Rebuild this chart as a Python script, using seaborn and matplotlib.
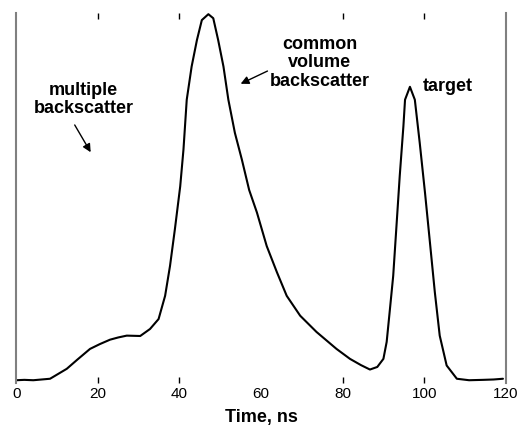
import numpy as np
import pandas as pd
import matplotlib
matplotlib.use("Agg")
import matplotlib.pyplot as plt
from matplotlib.ticker import FixedLocator
import seaborn as sns

# waveform (time in ns, normalised amplitude)
time_ns = [0, 2, 4.2, 8.3, 12.4, 15, 18.1, 20.5, 23, 25, 27.1, 30.4, 32.8, 34.9, 36.5,
           37.7, 38.9, 40.2, 41.0, 41.8, 43.0, 44.3, 45.5, 47.1, 48.3, 49.5, 50.8, 52.0,
           53.6, 55.3, 57.1, 59.0, 61.4, 63.9, 66.3, 69.6, 73.6, 78.5, 81.8, 84.5, 86.7,
           88.5, 90.0, 90.8, 91.6, 92.4, 93.2, 94.0, 94.9, 95.3, 96.5, 97.7, 98.9, 100.2,
           101.4, 102.6, 103.8, 105.5, 108.0, 111, 114.4, 117, 119.3]
amplitude = [0.004, 0.005, 0.004, 0.008, 0.035, 0.06, 0.089, 0.102, 0.114, 0.12, 0.125,
             0.124, 0.143, 0.17, 0.233, 0.314, 0.414, 0.53, 0.63, 0.765, 0.855, 0.927,
             0.981, 0.997, 0.986, 0.927, 0.855, 0.765, 0.675, 0.603, 0.52, 0.459, 0.368,
             0.297, 0.233, 0.179, 0.135, 0.089, 0.062, 0.045, 0.033, 0.04, 0.062, 0.108,
             0.197, 0.287, 0.422, 0.558, 0.693, 0.765, 0.80, 0.765, 0.648, 0.512, 0.378,
             0.243, 0.125, 0.044, 0.008, 0.004, 0.005, 0.006, 0.008]
x_ticks = [0, 20, 40, 60, 80, 100, 120]
small_ticks = [20, 40, 80, 100]

df = pd.DataFrame({"Time": time_ns, "Amplitude": amplitude})

sns.set_style("ticks")
plt.rcParams['font.family'] = ['Liberation Sans', 'DejaVu Sans']
plt.rcParams['text.color'] = 'black'
plt.rcParams['axes.labelcolor'] = 'black'
plt.rcParams['xtick.color'] = 'black'

fig = plt.figure(figsize=(5.22, 4.36), dpi=100)
ax = fig.add_axes([0.031, 0.122, 0.938, 0.848])
sns.lineplot(data=df, x="Time", y="Amplitude", ax=ax, color="black", linewidth=1.5)

ax.set_xlim(0, 120)
ax.set_ylim(-0.003, 1.0)
ax.set_yticks([])
ax.set_ylabel("")
ax.set_xticks(x_ticks)
ax.set_xticklabels([str(t) for t in x_ticks], fontsize=11)
# small inward marks at 20, 40, 80, 100 only (as in the original)
ax.xaxis.remove_overlapping_locs = False
ax.xaxis.set_minor_locator(FixedLocator(small_ticks))
ax.tick_params(axis="x", which="major", length=0, pad=3)
ax.tick_params(axis="x", which="minor", length=4, width=1, top=True, bottom=True,
               direction="in", color="black")
ax.set_xlabel("Time, ns", fontsize=13, fontweight="bold", labelpad=6)

for side in ["top", "bottom"]:
    ax.spines[side].set_visible(False)
for side in ["left", "right"]:
    ax.spines[side].set_visible(True)
    ax.spines[side].set_color("gray")
    ax.spines[side].set_linewidth(1.5)

# annotations
ax.text(16.5, 0.765, "multiple\nbackscatter", ha="center", va="center", fontsize=13,
        fontweight="bold", linespacing=1.1)
ax.annotate("", xy=(18.6, 0.616), xytext=(14.0, 0.703),
            arrowprops=dict(arrowstyle="-|>", color="black", lw=1, mutation_scale=12))
ax.text(74.4, 0.865, "common\nvolume\nbackscatter", ha="center", va="center", fontsize=13,
        fontweight="bold", linespacing=1.1)
ax.annotate("", xy=(54.4, 0.805), xytext=(62.2, 0.846),
            arrowprops=dict(arrowstyle="-|>", color="black", lw=1, mutation_scale=12))
ax.text(105.8, 0.80, "target", ha="center", va="center", fontsize=13, fontweight="bold")

fig.savefig("out.png", dpi=100)
